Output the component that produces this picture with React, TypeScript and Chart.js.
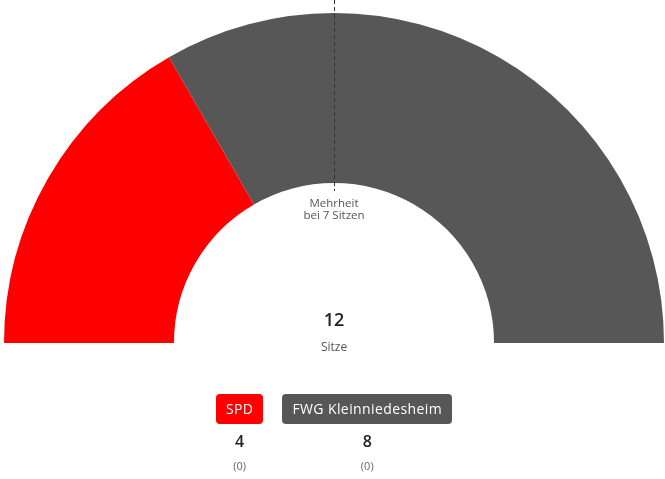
import React, { useEffect, useRef } from "react";
import { Chart, registerables } from "chart.js";

Chart.register(...registerables);

const parties: string[] = ["SPD", "FWG Kleinniedesheim"];
const seats: number[] = [4, 8];
const changes: string[] = ["(0)", "(0)"];
const colors: string[] = ["#ff0000", "#575757"];
const totalSeats = 12;
const majorityLabel: string[] = ["Mehrheit", "bei 7 Sitzen"];

const FONT = "'Open Sans', 'Noto Sans', sans-serif";

const majorityLine = {
  id: "majorityLine",
  afterDatasetsDraw(chart: any) {
    const meta = chart.getDatasetMeta(0);
    const arc = meta.data[0];
    if (!arc) return;
    const { x, y, innerRadius } = arc.getProps(["x", "y", "innerRadius"], true);
    const ctx = chart.ctx;
    ctx.save();
    ctx.strokeStyle = "#333333";
    ctx.lineWidth = 1;
    ctx.setLineDash([4, 3]);
    ctx.beginPath();
    ctx.moveTo(Math.round(x) + 0.5, 0);
    ctx.lineTo(Math.round(x) + 0.5, y - innerRadius + 8);
    ctx.stroke();
    ctx.restore();
  },
};

export default function App() {
  const canvasRef = useRef<HTMLCanvasElement | null>(null);

  useEffect(() => {
    if (!canvasRef.current) return;
    const chart = new Chart(canvasRef.current, {
      type: "doughnut",
      data: {
        labels: parties,
        datasets: [
          {
            data: seats,
            backgroundColor: colors,
            borderWidth: 0,
            hoverOffset: 0,
          },
        ],
      },
      options: {
        responsive: false,
        animation: false,
        rotation: -90,
        circumference: 180,
        cutout: "48.5%",
        layout: { padding: { left: 4, right: 1, top: 13, bottom: 136 } },
        plugins: {
          legend: { display: false },
          tooltip: { enabled: false },
        },
      },
      plugins: [majorityLine],
    });
    return () => chart.destroy();
  }, []);

  return (
    <div
      style={{
        position: "absolute",
        left: 0,
        top: 0,
        width: 665,
        height: 479,
        background: "#ffffff",
        fontFamily: FONT,
        overflow: "hidden",
      }}
    >
      <canvas ref={canvasRef} width={665} height={479} style={{ display: "block" }} />
      <div
        style={{
          position: "absolute",
          left: 0,
          width: 668,
          top: 197,
          textAlign: "center",
          fontSize: 11.5,
          lineHeight: "12px",
          color: "#555555",
        }}
      >
        <div>{majorityLabel[0]}</div>
        <div>{majorityLabel[1]}</div>
      </div>
      <div
        style={{
          position: "absolute",
          left: 0,
          width: 668,
          top: 307,
          textAlign: "center",
          fontSize: 18,
          lineHeight: "24px",
          fontWeight: 600,
          color: "#222222",
        }}
      >
        {totalSeats}
      </div>
      <div
        style={{
          position: "absolute",
          left: 0,
          width: 668,
          top: 339,
          textAlign: "center",
          fontSize: 12,
          lineHeight: "16px",
          color: "#555555",
        }}
      >
        Sitze
      </div>
      <div
        style={{
          position: "absolute",
          left: 0,
          width: 668,
          top: 394,
          display: "flex",
          justifyContent: "center",
          gap: 19,
        }}
      >
        {parties.map((p, i) => (
          <div key={p} style={{ display: "flex", flexDirection: "column", alignItems: "center" }}>
            <div
              style={{
                background: colors[i],
                color: "#ffffff",
                fontSize: 14,
                letterSpacing: 0.4,
                height: 30,
                lineHeight: "30px",
                padding: "0 10px",
                borderRadius: 4,
                whiteSpace: "nowrap",
              }}
            >
              {p}
            </div>
            <div
              style={{
                marginTop: 7,
                fontSize: 16,
                lineHeight: "20px",
                fontWeight: 600,
                color: "#222222",
              }}
            >
              {seats[i]}
            </div>
            <div style={{ marginTop: 8, fontSize: 11, lineHeight: "14px", color: "#666666" }}>
              {changes[i]}
            </div>
          </div>
        ))}
      </div>
    </div>
  );
}
